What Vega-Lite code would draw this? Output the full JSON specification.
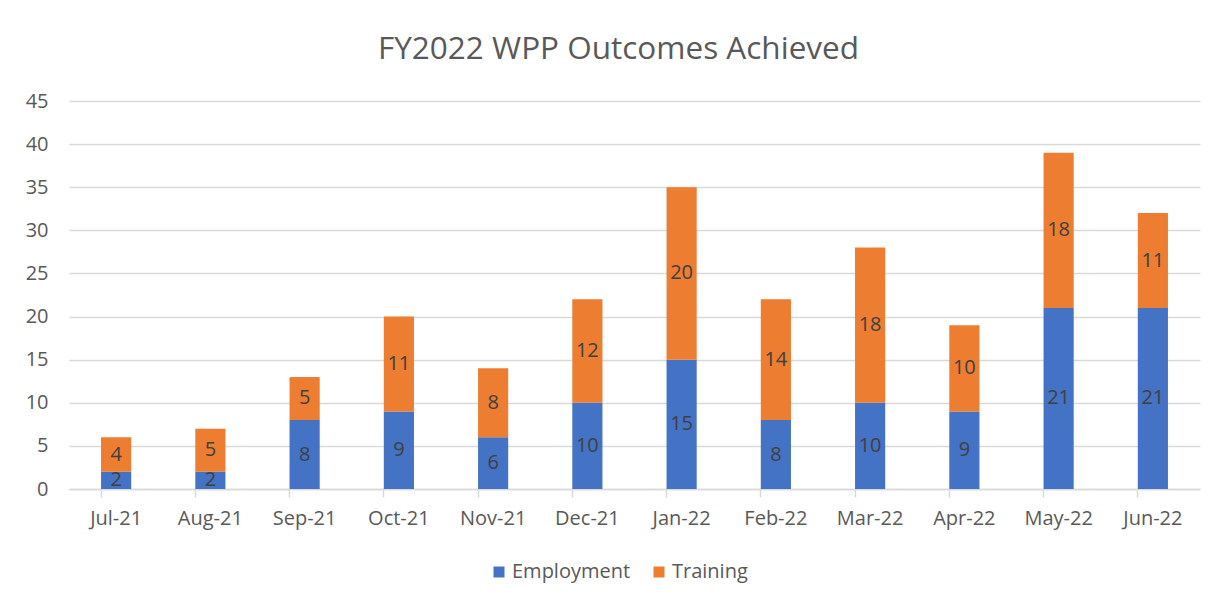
{
  "$schema": "https://vega.github.io/schema/vega-lite/v6.json",
  "width": 1131,
  "height": 388,
  "autosize": "none",
  "padding": {"left": 69, "top": 101, "right": 20, "bottom": 114},
  "background": "white",
  "config": {"view": {"stroke": null}},
  "title": {"text": "FY2022 WPP Outcomes Achieved", "fontSize": 31.5, "font": "Open Sans", "fontWeight": "normal", "color": "#595959", "offset": 26, "anchor": "middle", "dx": -16},
  "data": {"values": [
    {"month": "Jul-21", "series": "Employment", "value": 2}, {"month": "Jul-21", "series": "Training", "value": 4},
    {"month": "Aug-21", "series": "Employment", "value": 2}, {"month": "Aug-21", "series": "Training", "value": 5},
    {"month": "Sep-21", "series": "Employment", "value": 8}, {"month": "Sep-21", "series": "Training", "value": 5},
    {"month": "Oct-21", "series": "Employment", "value": 9}, {"month": "Oct-21", "series": "Training", "value": 11},
    {"month": "Nov-21", "series": "Employment", "value": 6}, {"month": "Nov-21", "series": "Training", "value": 8},
    {"month": "Dec-21", "series": "Employment", "value": 10}, {"month": "Dec-21", "series": "Training", "value": 12},
    {"month": "Jan-22", "series": "Employment", "value": 15}, {"month": "Jan-22", "series": "Training", "value": 20},
    {"month": "Feb-22", "series": "Employment", "value": 8}, {"month": "Feb-22", "series": "Training", "value": 14},
    {"month": "Mar-22", "series": "Employment", "value": 10}, {"month": "Mar-22", "series": "Training", "value": 18},
    {"month": "Apr-22", "series": "Employment", "value": 9}, {"month": "Apr-22", "series": "Training", "value": 10},
    {"month": "May-22", "series": "Employment", "value": 21}, {"month": "May-22", "series": "Training", "value": 18},
    {"month": "Jun-22", "series": "Employment", "value": 21}, {"month": "Jun-22", "series": "Training", "value": 11}
  ]},
  "transform": [
    {"stack": "value", "groupby": ["month"], "sort": [{"field": "series", "order": "ascending"}], "as": ["v0", "v1"]}
  ],
  "encoding": {
    "x": {"field": "month", "type": "ordinal", "sort": ["Jul-21","Aug-21","Sep-21","Oct-21","Nov-21","Dec-21","Jan-22","Feb-22","Mar-22","Apr-22","May-22","Jun-22"],
      "scale": {"paddingInner": 0.68, "paddingOuter": 0.34},
      "axis": {"title": null, "labelAngle": 0, "labelFont": "Open Sans", "labelFontSize": 20, "labelColor": "#595959", "labelPadding": 11,
        "domainColor": "#d9d9d9", "domainWidth": 1.5, "tickColor": "#d9d9d9", "tickWidth": 1.5, "tickSize": 8, "bandPosition": 0, "grid": false}}
  },
  "layer": [
    {
      "mark": {"type": "bar"},
      "encoding": {
        "y": {"field": "v1", "type": "quantitative", "scale": {"domain": [0, 45]},
          "axis": {"title": null, "values": [0,5,10,15,20,25,30,35,40,45], "labelFont": "Open Sans", "labelFontSize": 20, "labelColor": "#595959", "labelPadding": 21,
            "domain": false, "ticks": false, "grid": true, "gridColor": "#d9d9d9", "gridWidth": 1.5}},
        "y2": {"field": "v0"},
        "color": {"field": "series", "type": "nominal", "scale": {"domain": ["Employment", "Training"], "range": ["#4472C4", "#ED7D31"]},
          "legend": {"title": null, "orient": "none", "legendX": 420, "legendY": 461, "direction": "horizontal", "symbolType": "square", "symbolSize": 121, "symbolStrokeWidth": 0,
            "labelFont": "Open Sans", "labelFontSize": 20, "labelColor": "#595959", "labelOffset": 3, "columnPadding": 18}}
      }
    },
    {
      "transform": [
        {"fold": ["v0", "v1"], "as": ["edge", "pos"]},
        {"aggregate": [{"op": "mean", "field": "pos", "as": "mid"}], "groupby": ["month", "series", "value"]}
      ],
      "mark": {"type": "text", "font": "Open Sans", "fontSize": 20, "color": "#404040", "baseline": "middle"},
      "encoding": {
        "y": {"field": "mid", "type": "quantitative"},
        "text": {"field": "value", "type": "quantitative"}
      }
    }
  ]
}
